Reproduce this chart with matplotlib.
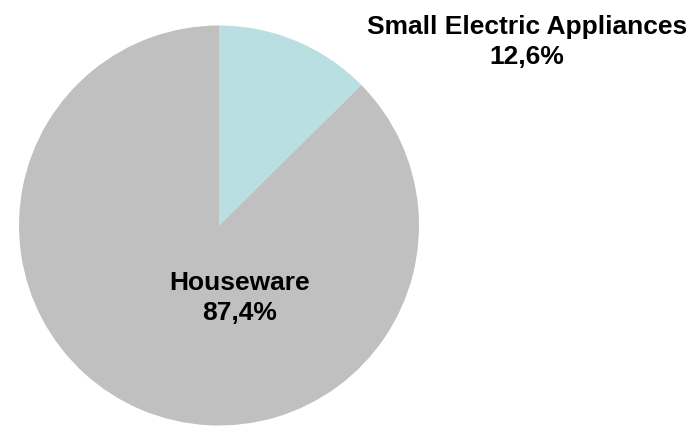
import matplotlib.pyplot as plt

categories = ["Small Electric Appliances", "Houseware"]
shares = [12.6, 87.4]
colors = ["#B9DFE2", "#C0C0C0"]

plt.rcParams["font.family"] = ["Liberation Sans", "DejaVu Sans"]

W, H = 693, 426
fig = plt.figure(figsize=(W / 100, H / 100), dpi=100)

# pie: centre ~ (219, 225.5) px, radius ~200 px
cx, cy, r = 219, 225.5, 200
ax = fig.add_axes([(cx - r) / W, 1 - (cy + r) / H, 2 * r / W, 2 * r / H])
wedges, _ = ax.pie(shares, colors=colors, startangle=90, counterclock=False,
                   radius=1, wedgeprops=dict(linewidth=0))
for w in wedges:
    w.set_clip_on(False)
ax.set_xlim(-1, 1)
ax.set_ylim(-1, 1)
ax.set_aspect("equal")
ax.axis("off")

def fmt(v):
    return f"{v:.1f}%".replace(".", ",")

fig.text(527 / W, 1 - 42 / H, f"{categories[0]}\n{fmt(shares[0])}",
         ha="center", va="center", fontsize=19, fontweight="bold",
         linespacing=1.32)
fig.text(240 / W, 1 - 298 / H, f"{categories[1]}\n{fmt(shares[1])}",
         ha="center", va="center", fontsize=19, fontweight="bold",
         linespacing=1.35)

fig.savefig("out.png", dpi=100)
